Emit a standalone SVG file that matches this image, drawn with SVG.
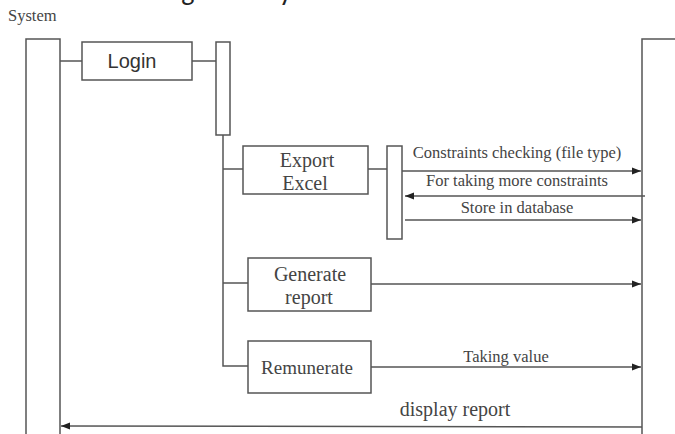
<svg xmlns="http://www.w3.org/2000/svg" width="675" height="434" viewBox="0 0 675 434">
<defs>
<style>
.box{fill:#fff;stroke:#555;stroke-width:1.5}
.ln{fill:none;stroke:#555;stroke-width:1.5}
.ser{font-family:"Liberation Serif","Times New Roman",serif;fill:#444}
.big{font-size:20px}
.sm{font-size:16.5px}
.ctr{text-anchor:middle}
</style>
<marker id="ah" viewBox="0 0 10 10" refX="10" refY="5" markerWidth="9" markerHeight="9" markerUnits="userSpaceOnUse" orient="auto">
<path d="M0,1 L10,5 L0,9 z" fill="#222"/>
</marker>
</defs>
<rect width="675" height="434" fill="#fff"/>
<text x="162" y="0" font-family="Carlito,'Open Sans',sans-serif" font-size="28" fill="#222">Figure 4: System Architecture</text>
<text class="ser" x="8" y="21" font-size="16.5">System</text>

<g id="system-lifeline"><rect class="box" x="26" y="39" width="34" height="400"/></g>
<g id="right-lifeline"><rect class="box" x="642" y="39" width="40" height="400"/></g>

<g id="login"><rect class="box" x="82" y="42" width="110" height="38"/>
<text x="132" y="68" font-family="Liberation Sans,Arial,sans-serif" font-size="20" fill="#333" class="ctr">Login</text></g>
<g id="activation1"><rect class="box" x="216" y="42" width="14" height="93"/></g>
<g id="export-excel"><rect class="box" x="243" y="146" width="125" height="48"/>
<text class="ser big ctr" x="307" y="167">Export</text><text class="ser big ctr" x="305" y="190">Excel</text></g>
<g id="activation2"><rect class="box" x="387" y="146" width="15" height="93"/></g>
<g id="generate-report"><rect class="box" x="248" y="258" width="123" height="53"/>
<text class="ser big ctr" x="310" y="281">Generate</text><text class="ser big ctr" x="309" y="304">report</text></g>
<g id="remunerate"><rect class="box" x="248" y="341" width="123" height="52"/>
<text class="ser ctr" font-size="19" x="307" y="374">Remunerate</text></g>

<g id="connectors">
<line class="ln" x1="60" y1="61" x2="82" y2="61"/>
<line class="ln" x1="192" y1="61" x2="216" y2="61"/>
<polyline class="ln" points="223,135 223,366 248,366"/>
<line class="ln" x1="223" y1="169" x2="243" y2="169"/>
<line class="ln" x1="223" y1="283" x2="248" y2="283"/>
<line class="ln" x1="368" y1="169" x2="387" y2="169"/>
<line class="ln" x1="402" y1="171" x2="641" y2="171" marker-end="url(#ah)"/>
<line class="ln" x1="645" y1="196" x2="405" y2="196" marker-end="url(#ah)"/>
<line class="ln" x1="405" y1="220" x2="641" y2="220" marker-end="url(#ah)"/>
<line class="ln" x1="371" y1="284" x2="641" y2="284" marker-end="url(#ah)"/>
<line class="ln" x1="371" y1="367" x2="641" y2="367" marker-end="url(#ah)"/>
<line class="ln" x1="642" y1="427" x2="61" y2="426" marker-end="url(#ah)"/>
<text class="ser sm ctr" x="517" y="158">Constraints checking (file type)</text>
<text class="ser sm ctr" x="517" y="186">For taking more constraints</text>
<text class="ser sm ctr" x="517" y="213">Store in database</text>
<text class="ser sm ctr" x="506" y="362">Taking value</text>
<text class="ser big ctr" x="455" y="416">display report</text>
</g>
</svg>
